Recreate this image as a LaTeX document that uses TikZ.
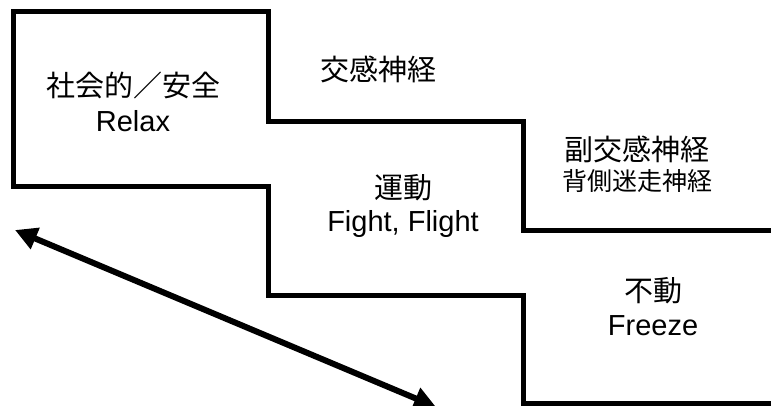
\documentclass[tikz,border=0pt]{standalone}
\usepackage{fontspec}
\setmainfont{Liberation Sans}
\newfontfamily\cjk{Noto Sans CJK JP}
\usetikzlibrary{arrows.meta}
\begin{document}
\begin{tikzpicture}[x=1pt,y=-1pt,
  stair/.style={line width=5pt,line join=miter,line cap=rect},
  big/.style={font=\fontsize{29}{32}\selectfont,anchor=base,inner sep=0pt},
  small/.style={font=\fontsize{25}{28}\selectfont,anchor=base,inner sep=0pt},
  dbl/.style={line width=6pt,{Triangle[length=22pt,width=22pt]}-{Triangle[length=22pt,width=22pt]}}]
\useasboundingbox (0,0) rectangle (771,406);
% staircase outlines
\draw[stair] (13,187) -- (13,12) -- (268,12) -- (268,122) -- (523,122) -- (523,231) -- (775,231);
\draw[stair] (13,187) -- (268,187) -- (268,295) -- (523,295) -- (523,403) -- (775,403);
% labels
\node[big] (safe) at (133,97) {\cjk 社会的／安全};
\node[big] (relax) at (133,132) {Relax};
\node[big] (symp) at (378,81) {\cjk 交感神経};
\node[big] (move) at (403,199) {\cjk 運動};
\node[big] (fight) at (403,232) {Fight, Flight};
\node[big] (para) at (637,161) {\cjk 副交感神経};
\node[small] (dorsal) at (637,191) {\cjk 背側迷走神経};
\node[big] (still) at (653,301) {\cjk 不動};
\node[big] (freeze) at (653,335) {Freeze};
% double arrow
\coordinate (a1) at (15,230);
\coordinate (a2) at (436,407);
\draw[dbl] (a1) -- (a2);
\end{tikzpicture}
\end{document}
